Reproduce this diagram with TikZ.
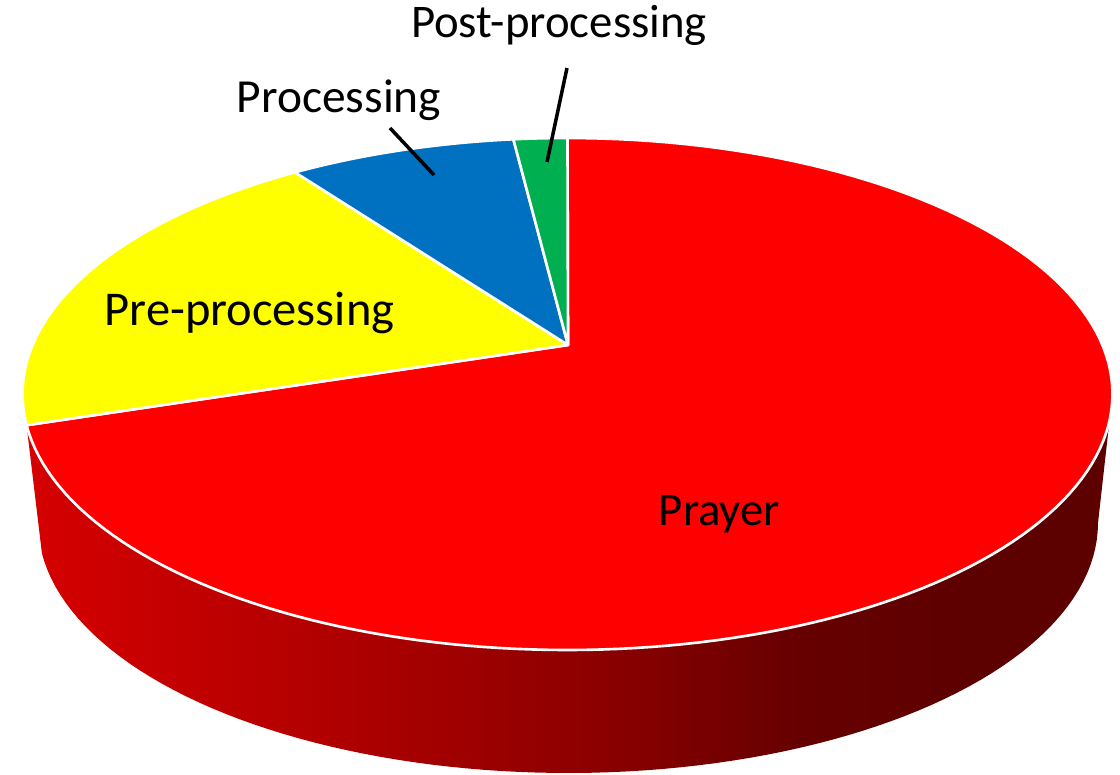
\documentclass[tikz,border=0pt]{standalone}
\usepackage{fontspec}
\setmainfont{Carlito}
\definecolor{pred}{RGB}{255,0,0}
\definecolor{pyellow}{RGB}{255,255,0}
\definecolor{pblue}{RGB}{0,112,192}
\definecolor{pgreen}{RGB}{0,176,80}
\definecolor{sa}{RGB}{214,0,0}
\definecolor{sb}{RGB}{180,0,0}
\definecolor{sc}{RGB}{140,0,0}
\definecolor{sd}{RGB}{102,0,0}
\definecolor{se}{RGB}{92,0,0}
\pgfdeclarehorizontalshading{sideshade}{100bp}{color(0bp)=(sa); color(25bp)=(sa); color(37.6bp)=(sb); color(51.4bp)=(sc); color(60.6bp)=(sd); color(69.8bp)=(se); color(75bp)=(se); color(100bp)=(se)}
\tikzset{
  slice/.style={draw=white, line width=0.75pt, line join=round},
  lbl/.style={inner sep=0pt, anchor=base},
  leader/.style={draw=black, line width=1pt}
}
\begin{document}
\begin{tikzpicture}[x=0.01cm, y=-0.01cm]
\useasboundingbox (0,0) rectangle (1120,775);
\coordinate (apex) at (568,345);
% side of the pie
\shade[shading=sideshade]
  plot[domain=-173:0, samples=90, variable=\t] ({567.5+545*cos(\t)},{394-256*sin(\t)})
  -- plot[domain=0:-173, samples=90, variable=\t] ({568+530*cos(\t)},{523-250*sin(\t)})
  -- cycle;
% top slices
\filldraw[slice, fill=pred] (apex) -- plot[domain=-173:90, samples=150, variable=\t] ({567.5+545*cos(\t)},{394-256*sin(\t)}) -- cycle;
\filldraw[slice, fill=pyellow] (apex) -- plot[domain=120:187, samples=50, variable=\t] ({567.5+545*cos(\t)},{394-256*sin(\t)}) -- cycle;
\filldraw[slice, fill=pblue] (apex) -- plot[domain=95.7:120, samples=30, variable=\t] ({567.5+545*cos(\t)},{394-256*sin(\t)}) -- cycle;
\filldraw[slice, fill=pgreen] (apex) -- plot[domain=90:95.7, samples=10, variable=\t] ({567.5+545*cos(\t)},{394-256*sin(\t)}) -- cycle;
% labels
\node[lbl, font=\fontsize{13.3}{15}\selectfont] (post) at (559,37) {Post-processing};
\node[lbl, font=\fontsize{13.5}{15}\selectfont] (proc) at (339,112) {Processing};
\node[lbl, font=\fontsize{13.8}{15}\selectfont] (pre) at (249.5,325) {Pre-processing};
\node[lbl, font=\fontsize{13.3}{15}\selectfont] (prayer) at (719.5,525) {Prayer};
% leader lines
\coordinate (postA) at (567,68);
\coordinate (postB) at (547,162);
\coordinate (procA) at (390,128);
\coordinate (procB) at (434,175);
\draw[leader] (postA) -- (postB);
\draw[leader] (procA) -- (procB);
\end{tikzpicture}
\end{document}
